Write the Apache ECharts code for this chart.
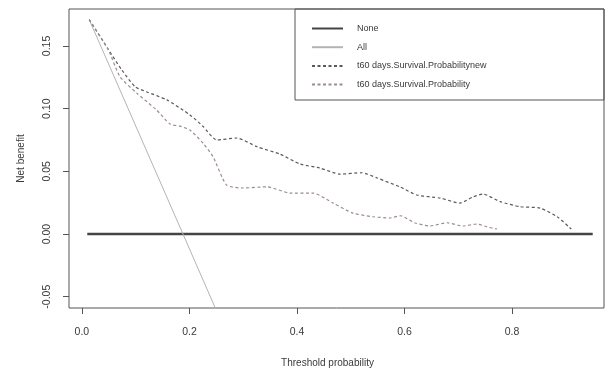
<!DOCTYPE html>
<html>
<head>
<meta charset="utf-8">
<script src="https://cdn.jsdelivr.net/npm/echarts@6/dist/echarts.min.js"></script>
<style>html,body{margin:0;padding:0;background:#fff}#c{width:611px;height:375px}</style>
</head>
<body>
<div id="c"></div>
<script>
// ---- data ----
var seriesNames = ['None', 'All', 't60 days.Survival.Probabilitynew', 't60 days.Survival.Probability'];
var xTicks = [0, 0.2, 0.4, 0.6, 0.8];
var xTickLabels = ['0.0', '0.2', '0.4', '0.6', '0.8'];
var yTicks = [-0.05, 0, 0.05, 0.10, 0.15];
var yTickLabels = ['-0.05', '0.00', '0.05', '0.10', '0.15'];

var noneX = [0.01, 0.95];
var noneY = [0, 0];

var allX = [0.0136, 0.188, 0.30];
var allY = [0.171, 0.0, -0.110];

var newX = [0.0136, 0.048, 0.074, 0.099, 0.120, 0.158, 0.201, 0.225, 0.251, 0.288, 0.326, 0.368, 0.406, 0.443, 0.480, 0.521, 0.549, 0.592, 0.623, 0.666, 0.703, 0.727, 0.746, 0.778, 0.815, 0.852, 0.884, 0.910];
var newY = [0.171, 0.148, 0.131, 0.1175, 0.1135, 0.107, 0.095, 0.086, 0.075, 0.0766, 0.0696, 0.0638, 0.0558, 0.0526, 0.0478, 0.0489, 0.0447, 0.0375, 0.0311, 0.0287, 0.0247, 0.0295, 0.0319, 0.0258, 0.0218, 0.0207, 0.0138, 0.0040];

var oldX = [0.0136, 0.048, 0.071, 0.102, 0.139, 0.164, 0.182, 0.201, 0.225, 0.244, 0.269, 0.300, 0.344, 0.387, 0.430, 0.467, 0.504, 0.541, 0.573, 0.592, 0.620, 0.647, 0.679, 0.709, 0.735, 0.754, 0.772];
var oldY = [0.171, 0.148, 0.1254, 0.1124, 0.0989, 0.0877, 0.0861, 0.0829, 0.0726, 0.0616, 0.0391, 0.0367, 0.0377, 0.0327, 0.0327, 0.0247, 0.0167, 0.0138, 0.0128, 0.0146, 0.0088, 0.0064, 0.0090, 0.0064, 0.0080, 0.0056, 0.0040];

function zip(a, b) { return a.map(function (v, i) { return [v, b[i]]; }); }

var chart = echarts.init(document.getElementById('c'), null, {renderer: 'canvas'});
var FONT = 'Liberation Sans, Arial, sans-serif';
var TXT = '#3a3a3a';

chart.setOption({
  animation: false,
  backgroundColor: '#ffffff',
  grid: {left: 69, top: 9, right: 7, bottom: 67, show: true, borderColor: '#555', borderWidth: 1, containLabel: false},
  xAxis: {
    type: 'value', min: -0.024, max: 0.971,
    axisLine: {show: false, onZero: false},
    splitLine: {show: false},
    axisTick: {show: true, length: 6, inside: false, customValues: xTicks, lineStyle: {color: '#555'}},
    axisLabel: {customValues: xTicks, margin: 19, color: TXT, fontSize: 10.5, fontFamily: FONT,
      formatter: function (v) { var i = xTicks.indexOf(v); return i >= 0 ? xTickLabels[i] : ''; }}
  },
  yAxis: {
    type: 'value', min: -0.059, max: 0.1795,
    axisLine: {show: false, onZero: false},
    splitLine: {show: false},
    axisTick: {show: true, length: 6, inside: false, customValues: yTicks, lineStyle: {color: '#555'}},
    axisLabel: {customValues: yTicks, rotate: 90, margin: 16, color: TXT, fontSize: 10.5, fontFamily: FONT,
      formatter: function (v) { for (var i = 0; i < yTicks.length; i++) { if (Math.abs(yTicks[i] - v) < 1e-9) return yTickLabels[i]; } return ''; }},
    name: 'Net benefit', nameLocation: 'middle', nameRotate: 90, nameGap: 43,
    nameTextStyle: {color: TXT, fontSize: 10, fontFamily: FONT}
  },
  legend: {
    orient: 'vertical', left: 311, top: 24, padding: 0,
    itemWidth: 31, itemHeight: 10, itemGap: 9.7,
    itemStyle: {opacity: 0},
    textStyle: {color: TXT, fontSize: 9, fontFamily: FONT, padding: [0, 0, 0, 9]},
    data: seriesNames
  },
  graphic: [
    {type: 'rect', shape: {x: 295, y: 9, width: 309, height: 91}, style: {fill: 'none', stroke: '#555', lineWidth: 1}, silent: true, z: 10},
    {type: 'text', x: 327.5, y: 363, style: {text: 'Threshold probability', fill: TXT, font: '10px ' + FONT, textAlign: 'center', textVerticalAlign: 'middle'}}
  ],
  series: [
    {name: seriesNames[0], type: 'line', symbol: 'none', data: zip(noneX, noneY), lineStyle: {color: '#444', width: 2.5}, itemStyle: {color: '#444'}, z: 3},
    {name: seriesNames[1], type: 'line', symbol: 'none', clip: true, data: zip(allX, allY), lineStyle: {color: '#b4b4b4', width: 1}, itemStyle: {color: '#b4b4b4'}},
    {name: seriesNames[2], type: 'line', symbol: 'none', smooth: 0.2, data: zip(newX, newY), lineStyle: {color: '#5a5a5a', width: 1.2, type: [3, 2.5]}, itemStyle: {color: '#5a5a5a'}},
    {name: seriesNames[3], type: 'line', symbol: 'none', smooth: 0.2, data: zip(oldX, oldY), lineStyle: {color: '#9c8c92', width: 1.2, type: [3, 2.5]}, itemStyle: {color: '#9c8c92'}}
  ]
});
</script>
</body>
</html>
